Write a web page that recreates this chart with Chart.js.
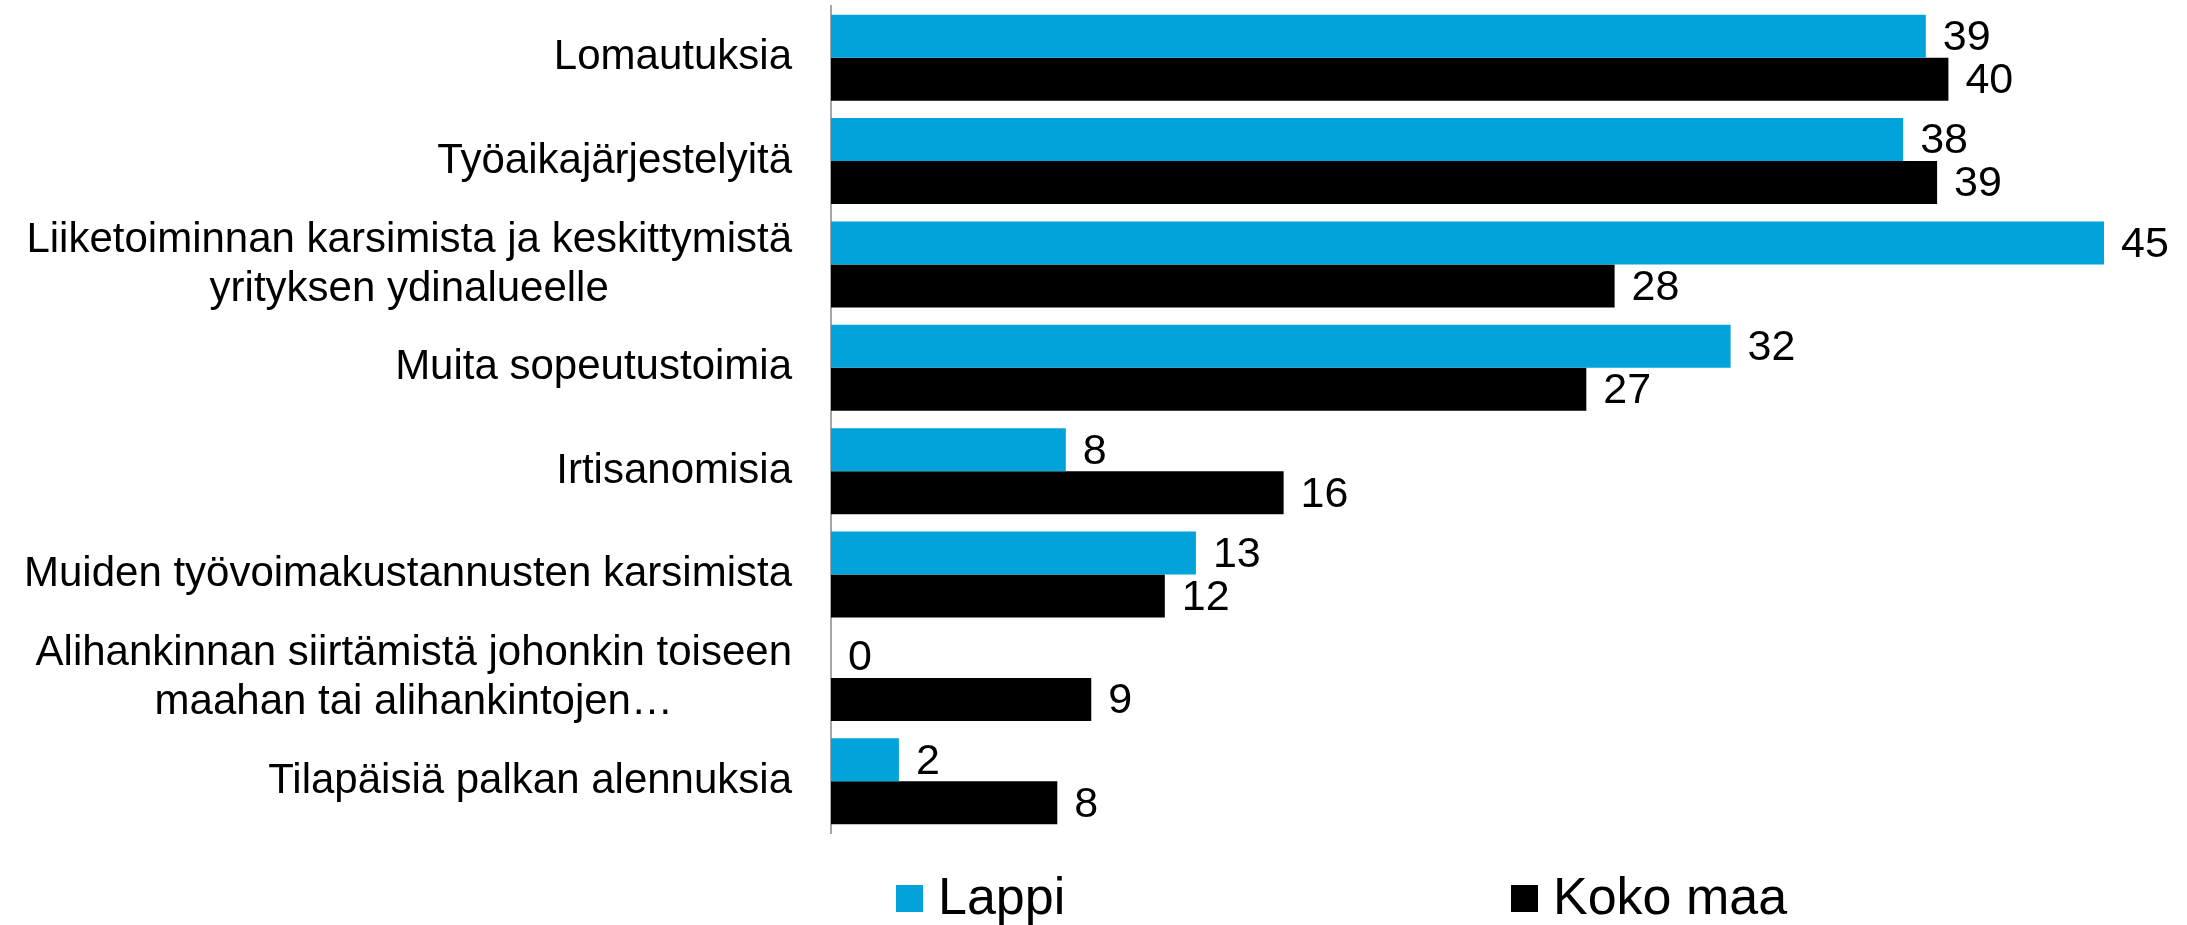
<!DOCTYPE html>
<html>
<head>
<meta charset="utf-8">
<script src="https://cdn.jsdelivr.net/npm/chart.js@4"></script>
<style>
  html, body { margin: 0; padding: 0; background: #fff; }
</style>
</head>
<body>
<canvas id="chart" width="2187" height="925"></canvas>
<script>
// data (bar lengths, labels show rounded values)
const categories = [
  'Lomautuksia',
  'Työaikajärjestelyitä',
  ['Liiketoiminnan karsimista ja keskittymistä', 'yrityksen ydinalueelle'],
  'Muita sopeutustoimia',
  'Irtisanomisia',
  'Muiden työvoimakustannusten karsimista',
  ['Alihankinnan siirtämistä johonkin toiseen', 'maahan tai alihankintojen…'],
  'Tilapäisiä palkan alennuksia'
];
const lappi = [38.7, 37.9, 45, 31.8, 8.3, 12.9, 0, 2.4];
const kokoMaa = [39.5, 39.1, 27.7, 26.7, 16, 11.8, 9.2, 8];
const seriesNames = ['Lappi', 'Koko maa'];
const seriesColors = ['#01a3da', '#000000'];

const FONT = '"Liberation Sans", Arial, sans-serif';

// category labels: block right-aligned, lines centred in the block (like Excel)
const categoryLabels = {
  id: 'categoryLabels',
  afterDraw(chart) {
    const ctx = chart.ctx;
    const yScale = chart.scales.y;
    const right = chart.chartArea.left - 39;
    ctx.save();
    ctx.font = '42px ' + FONT;
    ctx.fillStyle = '#000';
    ctx.textAlign = 'center';
    ctx.textBaseline = 'middle';
    categories.forEach((c, i) => {
      const lines = Array.isArray(c) ? c : [c];
      const w = Math.max(...lines.map(l => ctx.measureText(l).width));
      const cy = yScale.getPixelForValue(i);
      lines.forEach((l, j) => {
        ctx.fillText(l, right - w / 2, cy + (j - (lines.length - 1) / 2) * 49);
      });
    });
    ctx.restore();
  }
};

// value labels at bar ends
const valueLabels = {
  id: 'valueLabels',
  afterDatasetsDraw(chart) {
    const ctx = chart.ctx;
    ctx.save();
    ctx.font = '43px ' + FONT;
    ctx.fillStyle = '#000';
    ctx.textAlign = 'left';
    ctx.textBaseline = 'middle';
    chart.data.datasets.forEach((ds, di) => {
      chart.getDatasetMeta(di).data.forEach((bar, i) => {
        ctx.fillText(String(Math.round(ds.data[i])), bar.x + 17, bar.y + 2);
      });
    });
    ctx.restore();
  }
};

// legend under the plot
const bottomLegend = {
  id: 'bottomLegend',
  afterDraw(chart) {
    const ctx = chart.ctx;
    const xs = [896, 1511];
    const cy = 898;
    ctx.save();
    ctx.font = '52px ' + FONT;
    ctx.textAlign = 'left';
    ctx.textBaseline = 'middle';
    chart.data.datasets.forEach((ds, i) => {
      ctx.fillStyle = ds.backgroundColor;
      ctx.fillRect(xs[i], cy - 13, 27, 27);
      ctx.fillStyle = '#000';
      ctx.fillText(ds.label, xs[i] + 42, cy + 2);
    });
    ctx.restore();
  }
};

new Chart(document.getElementById('chart'), {
  type: 'bar',
  data: {
    labels: categories,
    datasets: [
      { label: seriesNames[0], data: lappi, backgroundColor: seriesColors[0] },
      { label: seriesNames[1], data: kokoMaa, backgroundColor: seriesColors[1] }
    ]
  },
  options: {
    indexAxis: 'y',
    responsive: false,
    animation: false,
    devicePixelRatio: 1,
    layout: { padding: { top: 6, right: 83, bottom: 92, left: 0 } },
    datasets: {
      bar: { barPercentage: 1, categoryPercentage: 0.832, borderWidth: 0 }
    },
    scales: {
      x: { min: 0, max: 45, display: false },
      y: {
        grid: { display: false },
        border: { display: true, color: '#a6a6a6', width: 2 },
        ticks: { display: false },
        afterFit(scale) { scale.width = 831; }
      }
    },
    plugins: {
      legend: { display: false },
      tooltip: { enabled: false }
    }
  },
  plugins: [categoryLabels, valueLabels, bottomLegend]
});
</script>
</body>
</html>
